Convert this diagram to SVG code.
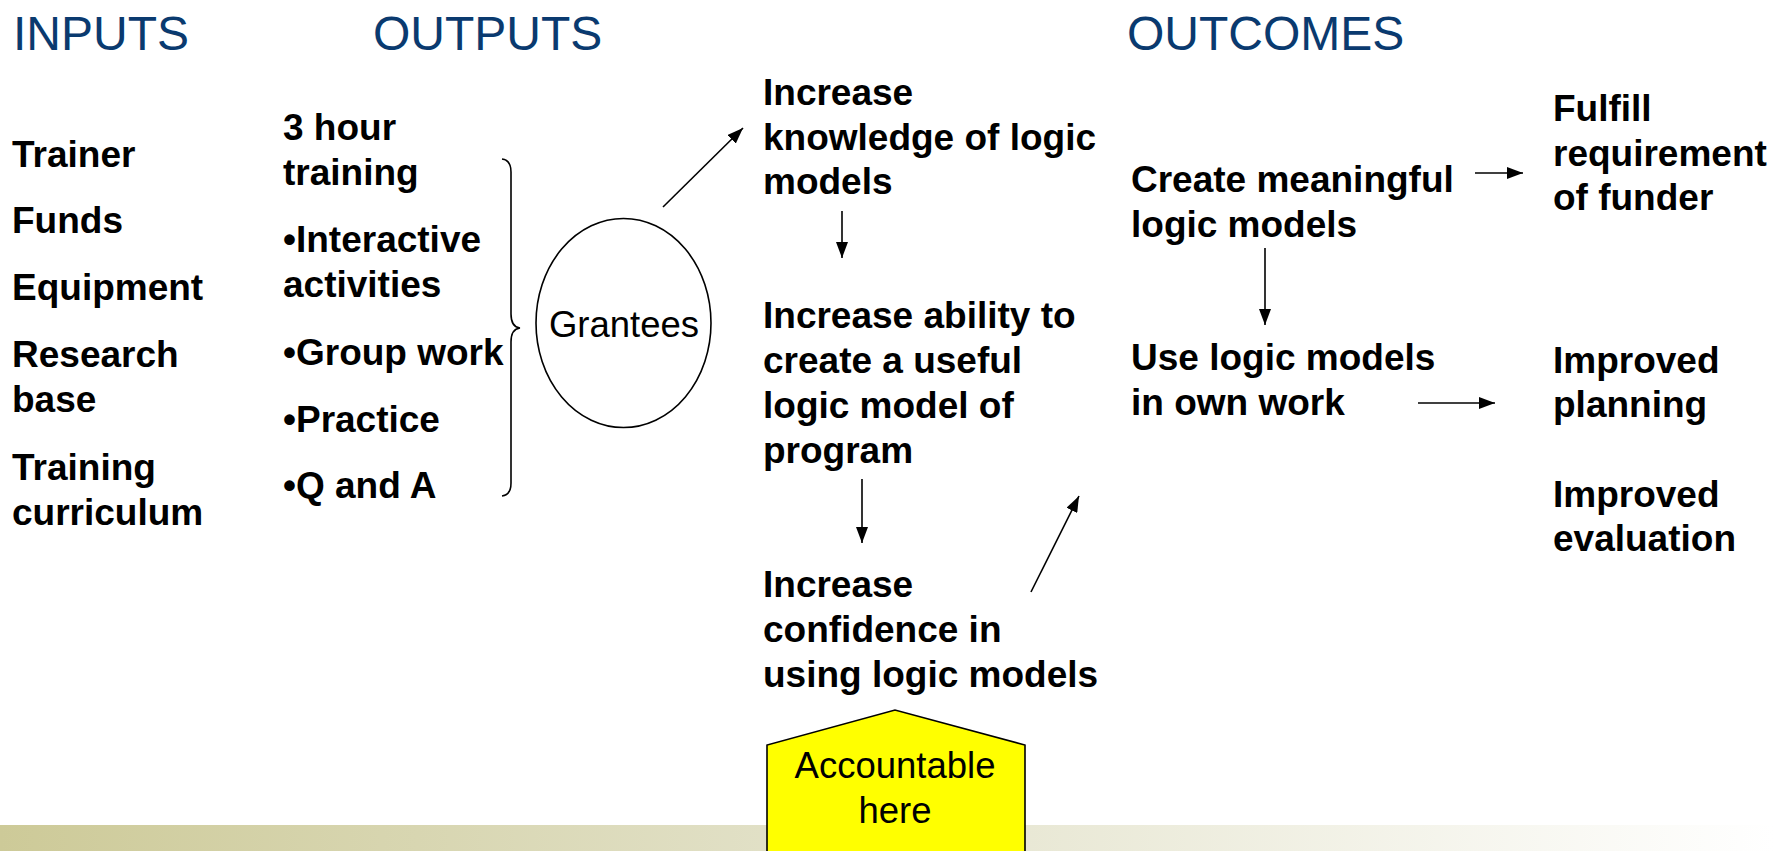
<svg xmlns="http://www.w3.org/2000/svg" width="1774" height="851" viewBox="0 0 1774 851">
  <style>
    .hdr { font-family: "Liberation Sans", Arial, sans-serif; font-size: 48px; fill: #0A3A6F; }
    .b { font-family: "Liberation Sans", Arial, sans-serif; font-size: 37px; font-weight: bold; fill: #000; }
    .r { font-family: "Liberation Sans", Arial, sans-serif; font-size: 36.5px; fill: #000; }
    .ln { stroke: #000; stroke-width: 1.6; fill: none; }
  </style>
  <defs>
    <linearGradient id="band" x1="0" y1="0" x2="1" y2="0">
      <stop offset="0" stop-color="#CDCA98"/>
      <stop offset="0.45" stop-color="#E2E1C8"/>
      <stop offset="1" stop-color="#FFFFFF"/>
    </linearGradient>
    <marker id="ah" viewBox="0 0 16 12" refX="16" refY="6" markerWidth="16" markerHeight="12" markerUnits="userSpaceOnUse" orient="auto">
      <path d="M0,0 L16,6 L0,12 z" fill="#000"/>
    </marker>
  </defs>
  <rect width="1774" height="851" fill="#FFFFFF"/>
  <rect x="0" y="825" width="1774" height="26" fill="url(#band)"/>

  <g id="headers">
    <text class="hdr" x="13" y="50">INPUTS</text>
    <text class="hdr" x="373" y="50">OUTPUTS</text>
    <text class="hdr" x="1127" y="50">OUTCOMES</text>
  </g>

  <g id="inputs">
    <text class="b" x="12" y="167">Trainer</text>
    <text class="b" x="12" y="233">Funds</text>
    <text class="b" x="12" y="300">Equipment</text>
    <text class="b" x="12" y="367">Research</text>
    <text class="b" x="12" y="412">base</text>
    <text class="b" x="12" y="480">Training</text>
    <text class="b" x="12" y="525">curriculum</text>
  </g>

  <g id="outputs">
    <text class="b" x="283" y="140">3 hour</text>
    <text class="b" x="283" y="185">training</text>
    <text class="b" x="283" y="252">•Interactive</text>
    <text class="b" x="283" y="297">activities</text>
    <text class="b" x="283" y="365">•Group work</text>
    <text class="b" x="283" y="432">•Practice</text>
    <text class="b" x="283" y="498">•Q and A</text>
    <path class="ln" d="M502,159 Q511,160 511,172 L511,314 Q511,327 520,328 Q511,329 511,342 L511,483 Q511,495 502,496"/>
  </g>

  <g id="grantees">
    <ellipse class="ln" cx="623.5" cy="323" rx="87.5" ry="104.5"/>
    <text class="r" x="624" y="337" text-anchor="middle">Grantees</text>
  </g>

  <g id="knowledge">
    <text class="b" x="763" y="105">Increase</text>
    <text class="b" x="763" y="150">knowledge of logic</text>
    <text class="b" x="763" y="194">models</text>
  </g>

  <g id="ability">
    <text class="b" x="763" y="328">Increase ability to</text>
    <text class="b" x="763" y="373">create a useful</text>
    <text class="b" x="763" y="418">logic model of</text>
    <text class="b" x="763" y="463">program</text>
  </g>

  <g id="confidence">
    <text class="b" x="763" y="597">Increase</text>
    <text class="b" x="763" y="642">confidence in</text>
    <text class="b" x="763" y="687">using logic models</text>
  </g>

  <g id="create">
    <text class="b" x="1131" y="192">Create meaningful</text>
    <text class="b" x="1131" y="237">logic models</text>
  </g>

  <g id="use">
    <text class="b" x="1131" y="370">Use logic models</text>
    <text class="b" x="1131" y="415">in own work</text>
  </g>

  <g id="fulfill">
    <text class="b" x="1553" y="121">Fulfill</text>
    <text class="b" x="1553" y="166">requirement</text>
    <text class="b" x="1553" y="210">of funder</text>
  </g>

  <g id="planning">
    <text class="b" x="1553" y="373">Improved</text>
    <text class="b" x="1553" y="417">planning</text>
  </g>

  <g id="evaluation">
    <text class="b" x="1553" y="507">Improved</text>
    <text class="b" x="1553" y="551">evaluation</text>
  </g>

  <g id="accountable">
    <path d="M767,860 L767,745 L895,710 L1025,745 L1025,860" fill="#FFFF00" stroke="#000" stroke-width="1.6"/>
    <text class="r" x="895" y="778" text-anchor="middle">Accountable</text>
    <text class="r" x="895" y="823" text-anchor="middle">here</text>
  </g>

  <g id="connectors">
    <line class="ln" x1="663" y1="207" x2="743" y2="128" marker-end="url(#ah)"/>
    <line class="ln" x1="842" y1="211" x2="842" y2="258" marker-end="url(#ah)"/>
    <line class="ln" x1="862" y1="479" x2="862" y2="543" marker-end="url(#ah)"/>
    <line class="ln" x1="1031" y1="592" x2="1079" y2="496" marker-end="url(#ah)"/>
    <line class="ln" x1="1475" y1="173" x2="1523" y2="173" marker-end="url(#ah)"/>
    <line class="ln" x1="1265" y1="248" x2="1265" y2="325" marker-end="url(#ah)"/>
    <line class="ln" x1="1418" y1="403" x2="1495" y2="403" marker-end="url(#ah)"/>
  </g>
</svg>
